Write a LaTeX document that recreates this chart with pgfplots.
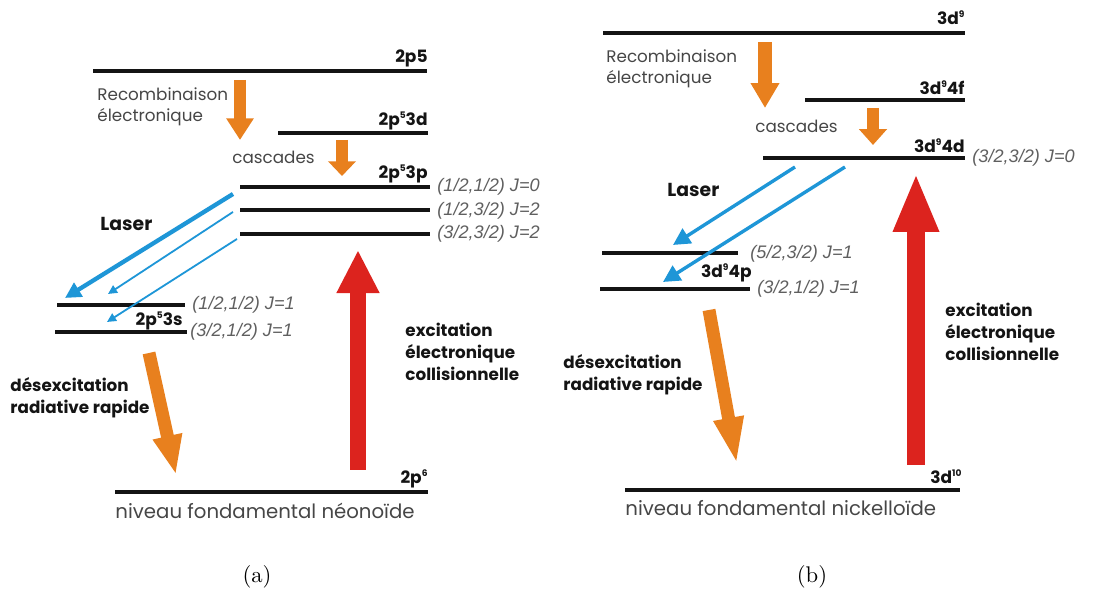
\documentclass[border=0pt]{standalone}
\usepackage{pgfplots}
\pgfplotsset{compat=1.18}
\usepackage{fontspec}
\setsansfont{Poppins}
\newfontfamily\jfont{Liberation Sans}
\usetikzlibrary{arrows.meta}
\definecolor{lvl}{RGB}{20,20,20}
\definecolor{txt}{RGB}{70,70,70}
\definecolor{jcol}{RGB}{95,95,95}
\definecolor{orng}{RGB}{232,128,30}
\definecolor{redd}{RGB}{220,35,30}
\definecolor{blu}{RGB}{30,150,215}
\newcommand{\ex}[1]{\raisebox{0.75ex}{\fontsize{4}{4}\selectfont #1}}
\tikzset{
  lab/.style={font=\sffamily\bfseries\fontsize{7.5}{8}\selectfont, text=lvl, inner sep=0pt},
  reg/.style={font=\sffamily\fontsize{7.4}{9}\selectfont, text=txt, inner sep=0pt, align=left},
  bld/.style={font=\sffamily\bfseries\fontsize{7.4}{9.6}\selectfont, text=lvl, inner sep=0pt, align=left},
  jl/.style={font=\jfont\itshape\fontsize{8}{8}\selectfont, text=jcol, inner sep=0pt, anchor=west},
  gnd/.style={font=\sffamily\fontsize{8.7}{10}\selectfont, text=txt, inner sep=0pt},
  lv/.style={lvl, line width=1.55pt},
}
\begin{document}
\begin{tikzpicture}
\begin{axis}[
  scale only axis, width=17cm, height=9.182cm,
  xmin=0, xmax=1096, ymin=0, ymax=592, y dir=reverse,
  hide axis, clip=false,
]
% keep the full frame in the bounding box
\addplot [draw=none, forget plot] coordinates {(0,0) (1096,592)};
% ---------- (a) neonoide ----------
% levels
\addplot [lv] coordinates {(93,71) (427,71)};
\addplot [lv] coordinates {(278,133) (428,133)};
\addplot [lv] coordinates {(240,187) (430,187)};
\addplot [lv] coordinates {(240,210) (430,210)};
\addplot [lv] coordinates {(240,234) (430,234)};
\addplot [lv] coordinates {(57,305) (185,305)};
\addplot [lv] coordinates {(55,332) (187,332)};
\addplot [lv] coordinates {(115,492) (428,492)};
% orange cascades
\addplot [orng, line width=5.7pt, -{Triangle[width=11.5pt,length=9.5pt]}] coordinates {(240,80) (240,140)};
\addplot [orng, line width=5.3pt, -{Triangle[width=12pt,length=6.5pt]}] coordinates {(342,140) (342,176)};
\addplot [orng, line width=5.7pt, -{Triangle[width=12pt,length=17.5pt]}] coordinates {(149,353) (176,475)};
% red excitation
\addplot [redd, line width=7pt, -{Triangle[width=17.6pt,length=19pt]}] coordinates {(358,470) (358,250)};
% laser
\addplot [blu, line width=1.9pt, -{Triangle[width=7pt,length=7pt]}] coordinates {(233,194) (65,298)};
\addplot [blu, line width=0.8pt, -{Triangle[width=3.8pt,length=4pt]}] coordinates {(233,212) (108,294)};
\addplot [blu, line width=0.8pt, -{Triangle[width=3.8pt,length=4pt]}] coordinates {(237,239) (107,322)};
% labels
\node[lab, anchor=east] at (axis cs:428,58) {2p5};
\node[lab, anchor=east] at (axis cs:428,121) {2p\ex{5}3d};
\node[lab, anchor=east] at (axis cs:428,174) {2p\ex{5}3p};
\node[lab, anchor=east] at (axis cs:183,321) {2p\ex{5}3s};
\node[lab, anchor=east] at (axis cs:428,479) {2p\ex{6}};
\node[reg, anchor=west] at (axis cs:97,107) {Recombinaison\\électronique};
\node[reg, anchor=west] at (axis cs:232,157) {cascades};
\node[bld, anchor=west, font=\sffamily\bfseries\fontsize{8.3}{9}\selectfont] at (axis cs:100,224) {Laser};
\node[jl] at (axis cs:437,187) {(1/2,1/2) J=0};
\node[jl] at (axis cs:437,211) {(1/2,3/2) J=2};
\node[jl] at (axis cs:437,234) {(3/2,3/2) J=2};
\node[jl] at (axis cs:192,305) {(1/2,1/2) J=1};
\node[jl] at (axis cs:190,332) {(3/2,1/2) J=1};
\node[bld, anchor=west] at (axis cs:405,352) {excitation\\électronique\\collisionnelle};
\node[bld, anchor=west] at (axis cs:10,398) {désexcitation\\radiative rapide};
\node[gnd, anchor=west] at (axis cs:115,511) {niveau fondamental néonoïde};
\node[inner sep=0pt] at (axis cs:257,577) {(a)};
% ---------- (b) nickelloide ----------
\addplot [lv] coordinates {(603,33) (965,33)};
\addplot [lv] coordinates {(805,100) (965,100)};
\addplot [lv] coordinates {(763,158) (965,158)};
\addplot [lv] coordinates {(602,253) (738,253)};
\addplot [lv] coordinates {(600,289) (750,289)};
\addplot [lv] coordinates {(625,490) (960,490)};
\addplot [orng, line width=6pt, -{Triangle[width=12pt,length=11pt]}] coordinates {(765,42) (765,108)};
\addplot [orng, line width=5.3pt, -{Triangle[width=12pt,length=7pt]}] coordinates {(873,108) (873,145)};
\addplot [orng, line width=5.7pt, -{Triangle[width=12pt,length=21pt]}] coordinates {(709,310) (737,465)};
\addplot [redd, line width=8pt, -{Triangle[width=18.5pt,length=26pt]}] coordinates {(916,465) (916,173)};
\addplot [blu, line width=1.5pt, -{Triangle[width=7.5pt,length=7.5pt]}] coordinates {(795,167) (673,245)};
\addplot [blu, line width=1.5pt, -{Triangle[width=7.5pt,length=7.5pt]}] coordinates {(845,167) (663,282)};
\node[lab, anchor=east] at (axis cs:965,18) {3d\ex{9}};
\node[lab, anchor=east] at (axis cs:965,88) {3d\ex{9}4f};
\node[lab, anchor=east] at (axis cs:965,146) {3d\ex{9}4d};
\node[lab, anchor=east] at (axis cs:752,273) {3d\ex{9}4p};
\node[lab, anchor=east] at (axis cs:962,477) {3d\ex{10}};
\node[reg, anchor=west] at (axis cs:606,69) {Recombinaison\\électronique};
\node[reg, anchor=west] at (axis cs:755,126) {cascades};
\node[bld, anchor=west, font=\sffamily\bfseries\fontsize{8.3}{9}\selectfont] at (axis cs:667,190) {Laser};
\node[jl] at (axis cs:972,158) {(3/2,3/2) J=0};
\node[jl] at (axis cs:750,254) {(5/2,3/2) J=1};
\node[jl] at (axis cs:757,289) {(3/2,1/2) J=1};
\node[bld, anchor=west] at (axis cs:945,332) {excitation\\électronique\\collisionnelle};
\node[bld, anchor=west] at (axis cs:563,375) {désexcitation\\radiative rapide};
\node[gnd, anchor=west] at (axis cs:625,508) {niveau fondamental nickelloïde};
\node[inner sep=0pt] at (axis cs:812,577) {(b)};
\end{axis}
\end{tikzpicture}
\end{document}
